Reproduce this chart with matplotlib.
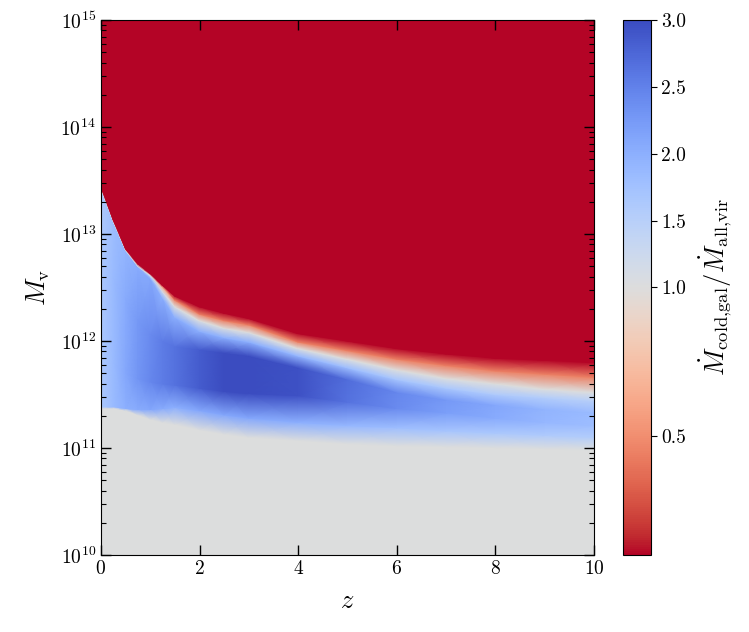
import numpy as np
import matplotlib
matplotlib.use("Agg")
import matplotlib.pyplot as plt
from matplotlib import colors, ticker

plt.rcParams['font.family'] = 'serif'
plt.rcParams['font.serif'] = ['cmr10', 'DejaVu Serif']
plt.rcParams['mathtext.fontset'] = 'cm'
plt.rcParams['axes.formatter.use_mathtext'] = True

# redshift nodes
z_nodes = [0, 0.25, 0.5, 0.75, 1.0, 1.25, 1.5, 2, 2.5, 3, 4, 5, 6, 7, 8, 9, 10]

# log10 positions (per z node) of profile features
g_pos  = [11.37, 11.37, 11.35, 11.31, 11.27, 11.24, 11.22, 11.17, 11.13, 11.10, 11.07, 11.04, 11.02, 11.01, 11.00, 10.99, 10.98]  # top of gray
b_pos  = [11.385, 11.385, 11.37, 11.36, 11.36, 11.37, 11.38, 11.35, 11.31, 11.28, 11.24, 11.21, 11.19, 11.16, 11.14, 11.12, 11.10]
c2_pos = [11.90, 11.80, 11.70, 11.65, 11.62, 11.60, 11.59, 11.56, 11.53, 11.51, 11.49, 11.43, 11.37, 11.33, 11.28, 11.24, 11.21]
c1_pos = [12.80, 12.60, 12.40, 12.20, 12.07, 12.00, 11.95, 11.92, 11.89, 11.86, 11.75, 11.64, 11.52, 11.45, 11.40, 11.36, 11.33]
u_pos  = [13.40, 13.09, 12.82, 12.67, 12.58, 12.40, 12.22, 12.09, 12.03, 11.99, 11.86, 11.75, 11.64, 11.56, 11.50, 11.47, 11.44]
w_pos  = [13.42, 13.11, 12.84, 12.69, 12.60, 12.46, 12.32, 12.19, 12.12, 12.08, 11.93, 11.83, 11.73, 11.65, 11.60, 11.55, 11.52]
o_pos  = [13.43, 13.12, 12.85, 12.70, 12.615, 12.50, 12.38, 12.25, 12.19, 12.15, 11.99, 11.91, 11.83, 11.77, 11.72, 11.69, 11.66]
r_pos  = [13.44, 13.13, 12.86, 12.72, 12.63, 12.52, 12.42, 12.32, 12.26, 12.21, 12.07, 12.00, 11.93, 11.88, 11.84, 11.82, 11.80]  # red edge

# ratio values at those features
b_val  = [1.65, 1.85, 2.00, 2.05, 2.10, 2.05, 2.00, 2.10, 2.10, 2.10, 2.00, 1.90, 1.80, 1.70, 1.65, 1.60, 1.55]
c2_val = [1.65, 1.85, 2.10, 2.30, 2.45, 2.55, 2.65, 2.85, 3.00, 3.00, 2.95, 2.65, 2.40, 2.20, 2.05, 1.90, 1.80]
c1_val = [1.65, 1.85, 2.05, 2.25, 2.40, 2.55, 2.65, 2.85, 3.00, 3.00, 2.95, 2.70, 2.45, 2.25, 2.10, 1.95, 1.85]
u_val  = [1.60, 1.80, 1.95, 2.05, 2.10, 2.00, 2.00, 2.00, 2.00, 2.00, 1.90, 1.80, 1.70, 1.65, 1.60, 1.55, 1.50]
w_val  = [1.60, 1.80, 1.95, 2.05, 1.70, 1.15, 1.00, 1.00, 1.00, 1.00, 1.00, 1.00, 1.00, 1.00, 1.00, 1.00, 1.00]
o_val  = [1.00, 1.00, 1.00, 1.00, 1.00, 0.65, 0.45, 0.45, 0.45, 0.45, 0.45, 0.45, 0.45, 0.45, 0.45, 0.45, 0.45]
r_val  = 0.1
red_val = 0.0
gray_val = 1.0

cbar_ticks = [0.5, 1.0, 1.5, 2.0, 2.5, 3.0]

# build curvilinear mesh
zn = np.array(z_nodes, float)
n = len(zn)
rows_pos = [np.full(n, 10.0), g_pos, b_pos, c2_pos, c1_pos, u_pos, w_pos, o_pos, r_pos,
            np.array(r_pos) + 0.03, np.full(n, 15.0)]
rows_val = [np.full(n, gray_val), np.full(n, gray_val), b_val, c2_val, c1_val, u_val, w_val, o_val,
            np.full(n, r_val), np.full(n, red_val), np.full(n, red_val)]
Y = 10.0 ** np.array(rows_pos, float)
X = np.tile(zn, (len(rows_pos), 1))
C = np.array(rows_val, float)

fig = plt.figure(figsize=(7.49, 6.32), dpi=100)
ax = fig.add_axes([0.1348, 0.1218, 0.6582, 0.8466])
cax = fig.add_axes([0.8318, 0.1218, 0.0374, 0.8466])

norm = colors.TwoSlopeNorm(vmin=0.1, vcenter=1.0, vmax=3.0)
mesh = ax.pcolormesh(X, Y, C, cmap='coolwarm_r', norm=norm, shading='gouraud', rasterized=True)
ax.set_yscale('log')
ax.set_xlim(0, 10)
ax.set_ylim(1e10, 1e15)
ax.set_xticks([0, 2, 4, 6, 8, 10])
ax.yaxis.set_major_locator(ticker.LogLocator(base=10, numticks=10))
ax.yaxis.set_minor_locator(ticker.LogLocator(base=10, subs=np.arange(2, 10), numticks=50))
ax.yaxis.set_minor_formatter(ticker.NullFormatter())
ax.tick_params(which='both', direction='in', top=True, right=True, labelsize=14)
ax.tick_params(which='major', length=7, width=1)
ax.tick_params(which='minor', length=3.5, width=0.8)
ax.set_xlabel(r'$z$', fontsize=19, labelpad=8)
ax.set_ylabel(r'$M_{\rm v}$', fontsize=19, labelpad=6)

cb = fig.colorbar(mesh, cax=cax, ticks=cbar_ticks)
cb.ax.yaxis.set_major_formatter(ticker.FormatStrFormatter('%.1f'))
cb.ax.minorticks_off()
cb.ax.tick_params(labelsize=14, length=4)
cb.set_label(r'$\dot{M}_{\rm cold{,}gal}/\dot{M}_{\rm all{,}vir}$', fontsize=19, labelpad=8)

fig.savefig('out.png', dpi=100)
